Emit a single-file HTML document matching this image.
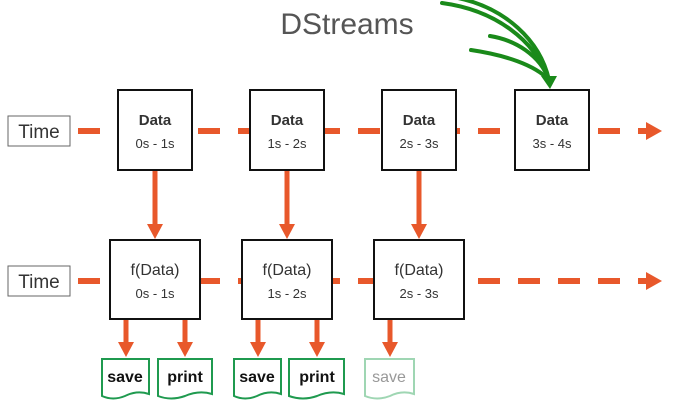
<!DOCTYPE html>
<html><head><style>
body{margin:0;width:674px;height:407px;background:#fff;overflow:hidden}
svg{display:block}
text{font-family:"Liberation Sans",sans-serif}
</style></head><body>
<svg width="674" height="407" viewBox="0 0 674 407">
<text x="347" y="34" font-size="30" fill="#555" text-anchor="middle" font-weight="300">DStreams</text>
<g fill="none" stroke="#1a8a1a" stroke-width="4" stroke-linecap="round">
<path d="M442,3 C495,10 535,40 549,80"/>
<path d="M458,-2 C505,8 540,40 549,80"/>
<path d="M490,36 C515,40 540,55 549,80"/>
<path d="M471,50 C505,55 535,65 549,80"/>
</g>
<path d="M541,76 L557,76 L550,89Z" fill="#1a8a1a"/>
<g stroke="#e8582b" stroke-width="6" fill="none" stroke-dasharray="22 18">
<line x1="78" y1="131" x2="650" y2="131"/>
<line x1="78" y1="281" x2="650" y2="281"/>
</g>
<path d="M646,122 L662,131 L646,140Z" fill="#e8582b"/>
<path d="M646,272 L662,281 L646,290Z" fill="#e8582b"/>
<g fill="#fff" stroke="#666" stroke-width="1">
<rect x="8" y="116" width="62" height="30"/>
<rect x="8" y="266" width="62" height="30"/>
</g>
<g font-size="19" fill="#333" text-anchor="middle">
<text x="39" y="138">Time</text><text x="39" y="288">Time</text>
</g>
<g fill="#fff" stroke="#111" stroke-width="2">
<rect x="118" y="90" width="74" height="80"/>
<rect x="250" y="90" width="74" height="80"/>
<rect x="382" y="90" width="74" height="80"/>
<rect x="515" y="90" width="74" height="80"/>
<rect x="110" y="240" width="90" height="79"/>
<rect x="242" y="240" width="90" height="79"/>
<rect x="374" y="240" width="90" height="79"/>
</g>
<g text-anchor="middle" fill="#333">
<g font-size="15" font-weight="bold"><text x="155" y="125">Data</text><text x="287" y="125">Data</text><text x="419" y="125">Data</text><text x="552" y="125">Data</text></g>
<g font-size="13"><text x="155" y="148">0s - 1s</text><text x="287" y="148">1s - 2s</text><text x="419" y="148">2s - 3s</text><text x="552" y="148">3s - 4s</text></g>
<g font-size="16"><text x="155" y="275">f(Data)</text><text x="287" y="275">f(Data)</text><text x="419" y="275">f(Data)</text></g>
<g font-size="13"><text x="155" y="298">0s - 1s</text><text x="287" y="298">1s - 2s</text><text x="419" y="298">2s - 3s</text></g>
</g>
<g stroke="#e8582b" stroke-width="5">
<line x1="155" y1="171" x2="155" y2="226"/><line x1="287" y1="171" x2="287" y2="226"/><line x1="419" y1="171" x2="419" y2="226"/>
<line x1="126" y1="320" x2="126" y2="344"/><line x1="185" y1="320" x2="185" y2="344"/>
<line x1="258" y1="320" x2="258" y2="344"/><line x1="317" y1="320" x2="317" y2="344"/>
<line x1="390" y1="320" x2="390" y2="344"/>
</g>
<g fill="#e8582b">
<path d="M147,224 L163,224 L155,239Z"/><path d="M279,224 L295,224 L287,239Z"/><path d="M411,224 L427,224 L419,239Z"/>
<path d="M118,342 L134,342 L126,357Z"/><path d="M177,342 L193,342 L185,357Z"/>
<path d="M250,342 L266,342 L258,357Z"/><path d="M309,342 L325,342 L317,357Z"/>
<path d="M382,342 L398,342 L390,357Z"/>
</g>
<g fill="#fff" stroke-width="2">
<path stroke="#1f9a4f" d="M102,359 H149 V394 Q137,390 125,396 Q113,401 102,396Z"/>
<path stroke="#1f9a4f" d="M158,359 H212 V394 Q199,390 185,396 Q171,401 158,396Z"/>
<path stroke="#1f9a4f" d="M234,359 H281 V394 Q269,390 257,396 Q245,401 234,396Z"/>
<path stroke="#1f9a4f" d="M289,359 H344 V394 Q331,390 317,396 Q303,401 289,396Z"/>
<path stroke="#9fd6b3" d="M365,359 H414 V394 Q402,390 390,396 Q377,401 365,396Z"/>
</g>
<g font-size="16" text-anchor="middle" font-weight="bold">
<text x="125" y="382" fill="#111">save</text>
<text x="185" y="382" fill="#111">print</text>
<text x="257" y="382" fill="#111">save</text>
<text x="317" y="382" fill="#111">print</text>
<text x="389" y="382" fill="#999" font-weight="normal">save</text>
</g>
</svg>
</body></html>
